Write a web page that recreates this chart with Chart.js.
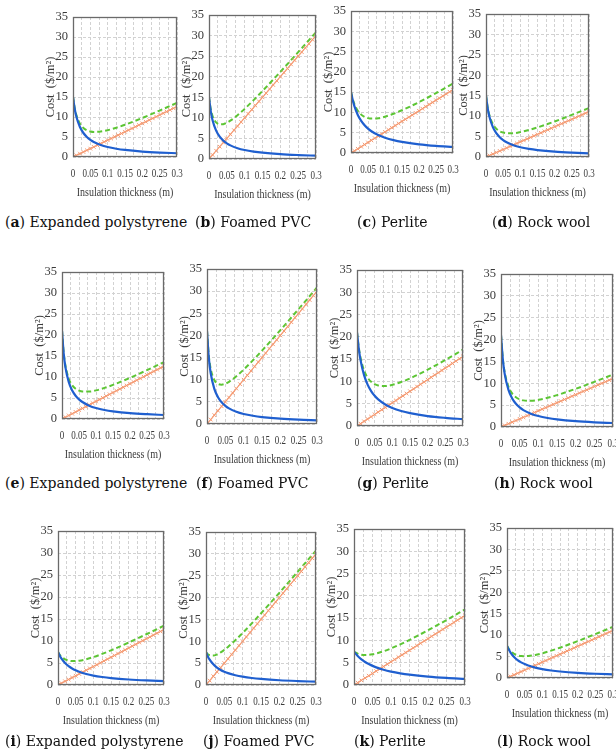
<!DOCTYPE html>
<html>
<head>
<meta charset="utf-8">
<script src="https://cdn.jsdelivr.net/npm/chart.js@4.4.1/dist/chart.umd.min.js"></script>
<style>
  html, body { margin:0; padding:0; background:#fff; width:616px; height:753px; overflow:hidden; }
  body { position:relative; }
  canvas { position:absolute; }
  .cap { position:absolute; font-family:"DejaVu Serif", serif; font-size:14px; line-height:18px; color:#111; white-space:nowrap; }
</style>
</head>
<body>
<script>
// ---------- data ----------
const thickness = [0, 0.005, 0.01, 0.02, 0.03, 0.04, 0.05, 0.06, 0.08, 0.1, 0.125, 0.15, 0.2, 0.25, 0.3];
const thicknessFine = [0,0.01,0.02,0.03,0.04,0.05,0.06,0.07,0.08,0.09,0.1,0.11,0.12,0.13,0.14,0.15,0.16,0.17,0.18,0.19,0.2,0.21,0.22,0.23,0.24,0.25,0.26,0.27,0.28,0.29,0.3];

// insulation cost (orange, with x markers) per material
const insulationEPS = [0,0.42,0.84,1.26,1.68,2.1,2.52,2.94,3.36,3.78,4.2,4.62,5.04,5.46,5.88,6.3,6.72,7.14,7.56,7.98,8.4,8.82,9.24,9.66,10.08,10.5,10.92,11.34,11.76,12.18,12.6];
const insulationPVC = [0,1,2,3,4,5,6,7,8,9,10,11,12,13,14,15,16,17,18,19,20,21,22,23,24,25,26,27,28,29,30];
const insulationPerlite = [0,0.52,1.04,1.56,2.08,2.6,3.12,3.64,4.16,4.68,5.2,5.72,6.24,6.76,7.28,7.8,8.32,8.84,9.36,9.88,10.4,10.92,11.44,11.96,12.48,13,13.52,14.04,14.56,15.08,15.6];
const insulationRockWool = [0,0.37,0.74,1.11,1.48,1.85,2.22,2.59,2.96,3.33,3.7,4.07,4.44,4.81,5.18,5.55,5.92,6.29,6.66,7.03,7.4,7.77,8.14,8.51,8.88,9.25,9.62,9.99,10.36,10.73,11.1];

// energy cost (blue) per panel
const energyA = [15,12.0,10.0,7.5,6.0,5.0,4.29,3.75,3.0,2.5,2.07,1.76,1.36,1.11,0.94];
const energyB = [15,11.59,9.44,6.89,5.43,4.47,3.81,3.31,2.63,2.18,1.80,1.53,1.18,0.96,0.80];
const energyC = [15,13.05,11.55,9.38,7.90,6.82,6.0,5.36,4.41,3.75,3.16,2.73,2.14,1.76,1.5];
const energyD = [15,11.88,9.83,7.31,5.82,4.83,4.13,3.61,2.88,2.39,1.98,1.69,1.30,1.06,0.89];
const energyE = [21,15.55,12.35,8.75,6.77,5.53,4.67,4.04,3.18,2.62,2.15,1.83,1.40,1.14,0.95];
const energyF = [21,14.88,11.52,7.93,6.05,4.89,4.10,3.53,2.77,2.27,1.86,1.57,1.20,0.97,0.82];
const energyG = [21,17.36,14.79,11.41,9.29,7.84,6.77,5.97,4.82,4.04,3.36,2.88,2.23,1.83,1.54];
const energyH = [21,15.35,12.09,8.49,6.54,5.32,4.48,3.87,3.05,2.51,2.06,1.74,1.33,1.08,0.91];
const energyI = [7.5,6.67,6.0,5.0,4.29,3.75,3.33,3.0,2.5,2.14,1.82,1.58,1.25,1.03,0.88];
const energyJ = [7.5,6.54,5.80,4.72,3.98,3.45,3.04,2.71,2.24,1.90,1.60,1.39,1.09,0.90,0.76];
const energyK = [7.5,6.98,6.52,5.77,5.17,4.69,4.29,3.95,3.41,3.0,2.61,2.31,1.88,1.58,1.36];
const energyL = [7.5,6.63,5.94,4.91,4.19,3.65,3.24,2.91,2.42,2.07,1.75,1.52,1.20,0.99,0.84];

// total cost (green dashed) per panel
const totalA = [15,12.21,10.42,8.34,7.26,6.68,6.39,6.27,6.36,6.7,7.32,8.06,9.76,11.61,13.54];
const totalB = [15,12.09,10.44,8.89,8.43,8.47,8.81,9.31,10.63,12.18,14.3,16.53,21.18,25.96,30.8];
const totalC = [15,13.31,12.07,10.42,9.46,8.90,8.6,8.48,8.57,8.95,9.66,10.53,12.54,14.76,17.1];
const totalD = [15,12.07,10.2,8.05,6.93,6.31,5.98,5.83,5.84,6.09,6.61,7.24,8.7,10.31,11.99];
const totalE = [21,15.76,12.77,9.59,8.03,7.21,6.77,6.56,6.54,6.82,7.4,8.13,9.8,11.64,13.55];
const totalF = [21,15.38,12.52,9.93,9.05,8.89,9.10,9.53,10.77,12.27,14.36,16.57,21.2,25.97,30.82];
const totalG = [21,17.62,15.31,12.45,10.85,9.92,9.37,9.09,8.98,9.24,9.86,10.68,12.63,14.83,17.14];
const totalH = [21,15.54,12.46,9.23,7.65,6.80,6.33,6.09,6.01,6.21,6.69,7.29,8.73,10.33,12.01];
const totalI = [7.5,6.88,6.42,5.84,5.55,5.43,5.43,5.52,5.86,6.34,7.07,7.88,9.65,11.53,13.48];
const totalJ = [7.5,7.04,6.80,6.72,6.98,7.45,8.04,8.71,10.24,11.9,14.1,16.39,21.09,25.9,30.76];
const totalK = [7.5,7.24,7.04,6.81,6.73,6.77,6.89,7.07,7.57,8.2,9.11,10.11,12.28,14.58,16.96];
const totalL = [7.5,6.82,6.31,5.65,5.30,5.13,5.09,5.13,5.38,5.77,6.38,7.07,8.6,10.24,11.94];

// axis ticks
const xGridValues = [0,0.025,0.05,0.075,0.1,0.125,0.15,0.175,0.2,0.225,0.25,0.275,0.3];
const xTickValues = [0,0.05,0.1,0.15,0.2,0.25,0.3];
const xTickLabels = ['0','0.05','0.1','0.15','0.2','0.25','0.3'];
const yTickValues = [0,5,10,15,20,25,30,35];
const xTitle = 'Insulation thickness (m)';
const yTitle = 'Cost  ($/m\u00B2)';

// panels
const panelLetters = ['a','b','c','d','e','f','g','h','i','j','k','l'];
const materialNames = ['Expanded polystyrene','Foamed PVC','Perlite','Rock wool'];
const insulationByMaterial = [insulationEPS, insulationPVC, insulationPerlite, insulationRockWool];
const energySeries = [energyA,energyB,energyC,energyD,energyE,energyF,energyG,energyH,energyI,energyJ,energyK,energyL];
const totalSeries = [totalA,totalB,totalC,totalD,totalE,totalF,totalG,totalH,totalI,totalJ,totalK,totalL];

// ---------- layout (plot rectangles: left, top, right, bottom) ----------
const plotRects = [
  [73,17,177,157],[209,15,316,159],[351,11,453,153],[486,14,589,157],
  [62,272,164,419],[207,269,317,424],[357,270,463,426],[501,274,613,427],
  [58,531,164,685],[206,532,316,685],[354,529,465,685],[507,528,613,678]
];
const captionPos = [
  [5,213],[195,213],[357,213],[492,213],
  [5,474],[196,474],[357,474],[494,474],
  [5,732],[203,732],[354,732],[497,732]
];

const PAD = {left:56, top:10, right:14, bottom:48};
const FONT = '"Liberation Serif", "Times New Roman", serif';

const framePlugin = {
  id: 'frame',
  afterDraw(chart) {
    const ctx = chart.ctx, a = chart.chartArea;
    const xs = chart.scales.x, ys = chart.scales.y;
    ctx.save();
    ctx.strokeStyle = '#6a6a6a';
    ctx.lineWidth = 1.3;
    ctx.strokeRect(a.left + 0.5, a.top + 0.5, a.right - a.left - 1, a.bottom - a.top - 1);
    ctx.fillStyle = '#3a3a3a';
    ctx.font = '12.5px ' + FONT;
    ctx.textAlign = 'right';
    ctx.textBaseline = 'middle';
    yTickValues.forEach(v => ctx.fillText(String(v), a.left - 5, ys.getPixelForValue(v)));
    ctx.textAlign = 'center';
    xTickValues.forEach((v, i) => {
      ctx.save();
      ctx.translate(xs.getPixelForValue(v), a.bottom + 17);
      ctx.scale(0.72, 1);
      ctx.fillText(xTickLabels[i], 0, 0);
      ctx.restore();
    });
    ctx.save();
    ctx.translate((a.left + a.right) / 2, a.bottom + 36);
    ctx.scale(0.8, 1);
    ctx.fillText(xTitle, 0, 0);
    ctx.restore();
    ctx.save();
    ctx.translate(a.left - 22, (a.top + a.bottom) / 2);
    ctx.rotate(-Math.PI / 2);
    ctx.fillText(yTitle, 0, 0);
    ctx.restore();
    ctx.restore();
  }
};

plotRects.forEach((r, i) => {
  const [L, T, R, B] = r;
  const cv = document.createElement('canvas');
  const w = R - L + PAD.left + PAD.right, h = B - T + PAD.top + PAD.bottom;
  cv.width = w; cv.height = h;
  cv.style.left = (L - PAD.left) + 'px';
  cv.style.top = (T - PAD.top) + 'px';
  cv.style.width = w + 'px'; cv.style.height = h + 'px';
  document.body.appendChild(cv);
  const mat = i % 4;
  new Chart(cv.getContext('2d'), {
    type: 'line',
    data: {
      datasets: [
        { label: 'Energy cost', data: thickness.map((x, k) => ({x, y: energySeries[i][k]})),
          borderColor: '#1f5fcf', borderWidth: 2.2, pointRadius: 0, cubicInterpolationMode: 'monotone', fill: false },
        { label: 'Insulation cost', data: thicknessFine.map((x, k) => ({x, y: insulationByMaterial[mat][k]})),
          borderColor: '#f7a07a', borderWidth: 1.2, pointStyle: 'crossRot', pointRadius: 2.6,
          pointBorderColor: '#f59a72', pointBorderWidth: 1, fill: false },
        { label: 'Total cost', data: thickness.map((x, k) => ({x, y: totalSeries[i][k]})),
          borderColor: '#5cc534', borderWidth: 2, borderDash: [5, 3], pointRadius: 0,
          cubicInterpolationMode: 'monotone', fill: false }
      ]
    },
    options: {
      responsive: false, animation: false, devicePixelRatio: 1,
      layout: { padding: PAD },
      plugins: { legend: { display: false }, tooltip: { enabled: false } },
      scales: {
        x: { type: 'linear', min: 0, max: 0.3,
             afterBuildTicks: ax => { ax.ticks = xGridValues.map(v => ({value: v})); },
             ticks: { display: false },
             grid: { color: '#d2d2d2', lineWidth: 1, drawTicks: false },
             border: { display: false, dash: [3, 2] } },
        y: { type: 'linear', min: 0, max: 35,
             afterBuildTicks: ax => { ax.ticks = yTickValues.map(v => ({value: v})); },
             ticks: { display: false },
             grid: { color: '#d2d2d2', lineWidth: 1, drawTicks: false },
             border: { display: false, dash: [3, 2] } }
      }
    },
    plugins: [framePlugin]
  });
  const cap = document.createElement('div');
  cap.className = 'cap';
  cap.style.left = captionPos[i][0] + 'px';
  cap.style.top = captionPos[i][1] + 'px';
  cap.innerHTML = '(<b>' + panelLetters[i] + '</b>) ' + materialNames[mat];
  document.body.appendChild(cap);
});
</script>
</body>
</html>
